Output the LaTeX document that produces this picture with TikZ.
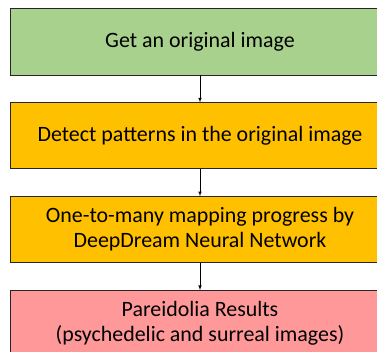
\documentclass[tikz,border=0pt]{standalone}
\usepackage{fontspec}
\setmainfont{Carlito}
\usetikzlibrary{positioning}
\definecolor{stepgreen}{HTML}{A9D18E}
\definecolor{steporange}{HTML}{FFC000}
\definecolor{steppink}{HTML}{FF9999}

\begin{document}
\begin{tikzpicture}[
  stepbox/.style={draw=black!85,line width=0.8pt,minimum width=380bp,minimum height=66bp,
    align=center,inner sep=2pt,font=\fontsize{22}{25}\selectfont},
  flow/.style={->,>=latex,line width=0.6pt},
  node distance=27bp]
\useasboundingbox (0,0) rectangle (377bp,-352bp);
\clip (0,0) rectangle (377bp,-352bp);

\node[stepbox,fill=stepgreen,minimum height=67bp] (get) at (200bp,-41.5bp) {Get an original image};
\node[stepbox,fill=steporange,below=of get] (detect) {Detect patterns in the original image};
\node[stepbox,fill=steporange,below=of detect] (mapping) {One-to-many mapping progress by\\DeepDream Neural Network};
\node[stepbox,fill=steppink,below=of mapping] (result) {Pareidolia Results\\(psychedelic and surreal images)};

\draw[flow] (get) -- (detect);
\draw[flow] (detect) -- (mapping);
\draw[flow] (mapping) -- (result);
\end{tikzpicture}
\end{document}
